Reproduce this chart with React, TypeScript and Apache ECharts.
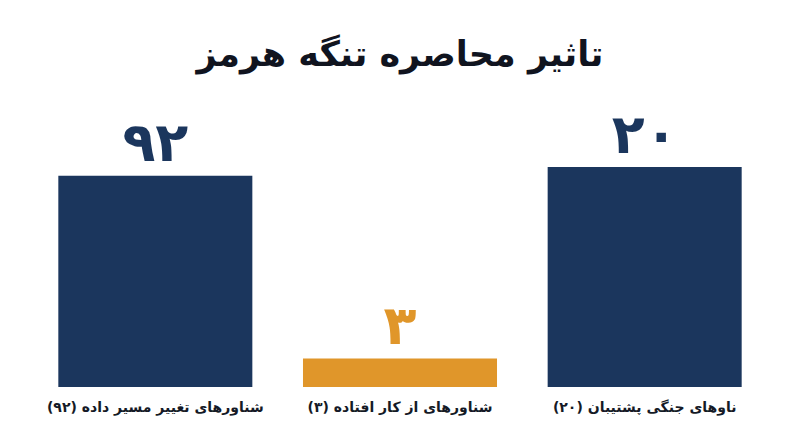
import React, { useEffect, useRef } from "react";
import * as echarts from "echarts";

const title = "تاثیر محاصره تنگه هرمز";
const categories = [
  "شناورهای تغییر مسیر داده (۹۲)",
  "شناورهای از کار افتاده (۳)",
  "ناوهای جنگی پشتیبان (۲۰)",
];
const valueLabels = ["۹۲", "۳", "۲۰"];
// drawn bar heights, as a percentage of the tallest bar (the picture is not to scale)
const barHeights = [96, 13, 100];
const barColors = ["#1b365d", "#e0962a", "#1b365d"];

export default function App() {
  const ref = useRef<HTMLDivElement>(null);
  useEffect(() => {
    document.body.style.margin = "0";
    const chart = echarts.init(ref.current!, undefined, { renderer: "svg" });
    const font = "'DejaVu Sans', 'Noto Sans', sans-serif";
    chart.setOption({
      animation: false,
      backgroundColor: "#ffffff",
      title: {
        text: title,
        left: "center",
        top: 31,
        textStyle: { fontSize: 35, fontWeight: "bold", color: "#10141f", fontFamily: font },
      },
      grid: { left: 33, right: 33, top: 167, bottom: 60, containLabel: false },
      xAxis: {
        type: "category",
        data: categories,
        axisLine: { show: false },
        axisTick: { show: false },
        axisLabel: {
          interval: 0,
          margin: 13,
          fontSize: 14,
          fontWeight: "bold",
          color: "#151a26",
          fontFamily: font,
        },
      },
      yAxis: { type: "value", min: 0, max: 100, show: false, splitLine: { show: false } },
      series: [
        {
          type: "bar",
          barWidth: "79.3%",
          data: barHeights.map((v, i) => ({
            value: v,
            itemStyle: { color: barColors[i] },
            label: {
              show: true,
              position: "top",
              distance: 6,
              formatter: valueLabels[i],
              fontSize: 54,
              fontWeight: "bold",
              color: barColors[i],
              fontFamily: font,
            },
          })),
        },
      ],
    });
    return () => chart.dispose();
  }, []);
  return <div ref={ref} style={{ width: 800, height: 447 }} />;
}
